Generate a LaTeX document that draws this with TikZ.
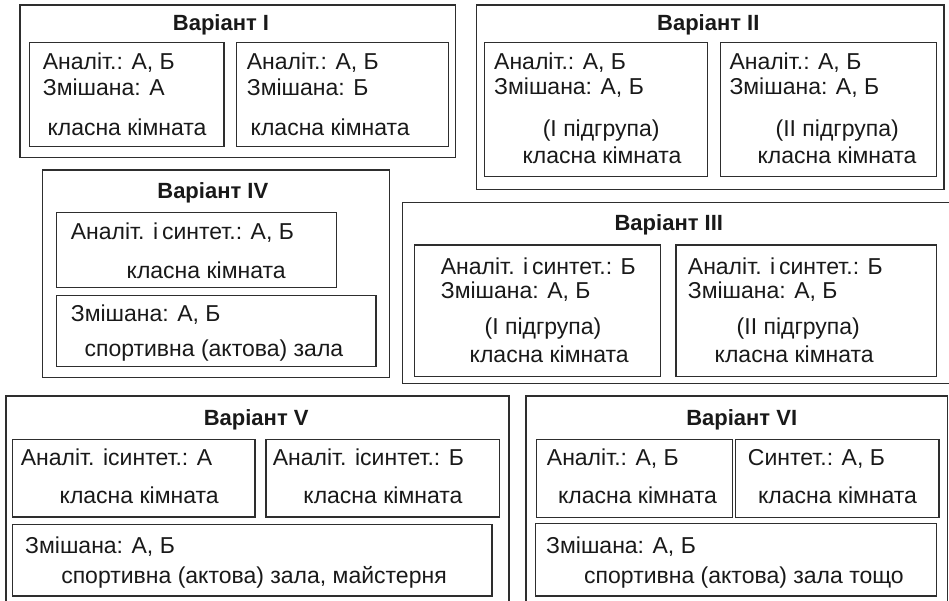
\documentclass[tikz,border=0pt]{standalone}
\usepackage{fontspec}
\setmainfont{Liberation Sans}
\begin{document}
\begin{tikzpicture}[x=1pt,y=-1pt,
  frame/.style={draw=black!82,line width=1.2pt},
  cell/.style={draw=black!82,line width=1.1pt},
  title/.style={anchor=base,inner sep=0pt,font=\fontsize{22}{22}\selectfont\bfseries,text=black!90},
  txt/.style={anchor=base west,inner sep=0pt,font=\fontsize{23}{23}\selectfont,text=black!90},
  ctxt/.style={txt,anchor=base}]
\useasboundingbox (0,0) rectangle (949,600);

% ---------- Variant I ----------
\draw[frame] (20,5) rectangle (455.7,157.7);
\node[title] (t1) at (221,30) {Варіант І};
\draw[cell] (29.3,42.3) rectangle (224,146.7);
\draw[cell] (236.7,42.3) rectangle (448.3,146.7);
\node[txt] (v1a1) at (42.7,69) {Аналіт.: А, Б};
\node[txt] (v1a2) at (42.7,95) {Змішана: А};
\node[ctxt] (v1a3) at (127,135) {класна кімната};
\node[txt] (v1b1) at (246.7,69) {Аналіт.: А, Б};
\node[txt] (v1b2) at (246.7,95) {Змішана: Б};
\node[ctxt] (v1b3) at (330.2,135) {класна кімната};

% ---------- Variant II ----------
\draw[frame] (476.7,5) rectangle (944,189.5);
\node[title] (t2) at (708.3,30) {Варіант ІІ};
\draw[cell] (484.3,42.3) rectangle (707.3,176.7);
\draw[cell] (720.7,42.3) rectangle (936.7,176.7);
\node[txt] (v2a1) at (494,69) {Аналіт.: А, Б};
\node[txt] (v2a2) at (494,94.3) {Змішана: А, Б};
\node[ctxt] (v2a3) at (601.2,136.7) {(І підгрупа)};
\node[ctxt] (v2a4) at (602,163.3) {класна кімната};
\node[txt] (v2b1) at (729.3,69) {Аналіт.: А, Б};
\node[txt] (v2b2) at (729.3,94.3) {Змішана: А, Б};
\node[ctxt] (v2b3) at (837.2,136.7) {(ІІ підгрупа)};
\node[ctxt] (v2b4) at (837,163.3) {класна кімната};

% ---------- Variant IV ----------
\draw[frame] (42.7,170) rectangle (389.3,377.3);
\node[title] (t4) at (212.8,198.3) {Варіант IV};
\draw[cell] (56.7,212.7) rectangle (336.7,287.7);
\draw[cell] (56.7,295.7) rectangle (376,366.7);
\node[txt] (v4a1) at (70.7,239) {Аналіт. і\,синтет.: А, Б};
\node[ctxt] (v4a2) at (206.2,278.3) {класна кімната};
\node[txt] (v4b1) at (70.7,321.7) {Змішана: А, Б};
\node[ctxt] (v4b2) at (213.9,356.7) {спортивна (актова) зала};

% ---------- Variant III ----------
\draw[frame] (402.3,202.5) rectangle (955,383.5);
\node[title] (t3) at (668.8,230) {Варіант ІІІ};
\draw[cell] (414.3,245) rectangle (660.7,376.5);
\draw[cell] (676,245) rectangle (936.7,376.5);
\node[txt] (v3a1) at (440.7,274) {Аналіт. і\,синтет.: Б};
\node[txt] (v3a2) at (440.7,298.3) {Змішана: А, Б};
\node[ctxt] (v3a3) at (543,334.3) {(І підгрупа)};
\node[ctxt] (v3a4) at (549.2,362.7) {класна кімната};
\node[txt] (v3b1) at (687.7,274) {Аналіт. і\,синтет.: Б};
\node[txt] (v3b2) at (687.7,298.3) {Змішана: А, Б};
\node[ctxt] (v3b3) at (798.3,334.3) {(ІІ підгрупа)};
\node[ctxt] (v3b4) at (794.2,362.7) {класна кімната};

% ---------- Variant V ----------
\draw[frame] (6,396) rectangle (509,610);
\node[title] (t5) at (256.2,425) {Варіант V};
\draw[cell] (12.5,439.3) rectangle (255,517);
\draw[cell] (266,439.3) rectangle (499.5,517);
\draw[cell] (12.5,524.5) rectangle (492,596);
\node[txt] (v5a1) at (20.7,465) {Аналіт. ісинтет.: А};
\node[ctxt] (v5a2) at (139.2,503.3) {класна кімната};
\node[txt] (v5b1) at (272.7,465) {Аналіт. ісинтет.: Б};
\node[ctxt] (v5b2) at (382.9,503.3) {класна кімната};
\node[txt] (v5c1) at (25,553.3) {Змішана: А, Б};
\node[ctxt] (v5c2) at (254,583.3) {спортивна (актова) зала, майстерня};

% ---------- Variant VI ----------
\draw[frame] (526,396) rectangle (947.3,610);
\node[title] (t6) at (741.7,425) {Варіант VI};
\draw[cell] (536.3,439.3) rectangle (732.3,517.5);
\draw[cell] (735.7,439.3) rectangle (939,517.5);
\draw[cell] (535.5,523.5) rectangle (936.7,596);
\node[txt] (v6a1) at (546.7,465) {Аналіт.: А, Б};
\node[ctxt] (v6a2) at (637.5,503.3) {класна кімната};
\node[txt] (v6b1) at (747.7,465) {Синтет.: А, Б};
\node[ctxt] (v6b2) at (837.5,503.3) {класна кімната};
\node[txt] (v6c1) at (546,553.3) {Змішана: А, Б};
\node[ctxt] (v6c2) at (744,583.3) {спортивна (актова) зала тощо};
\end{tikzpicture}
\end{document}
